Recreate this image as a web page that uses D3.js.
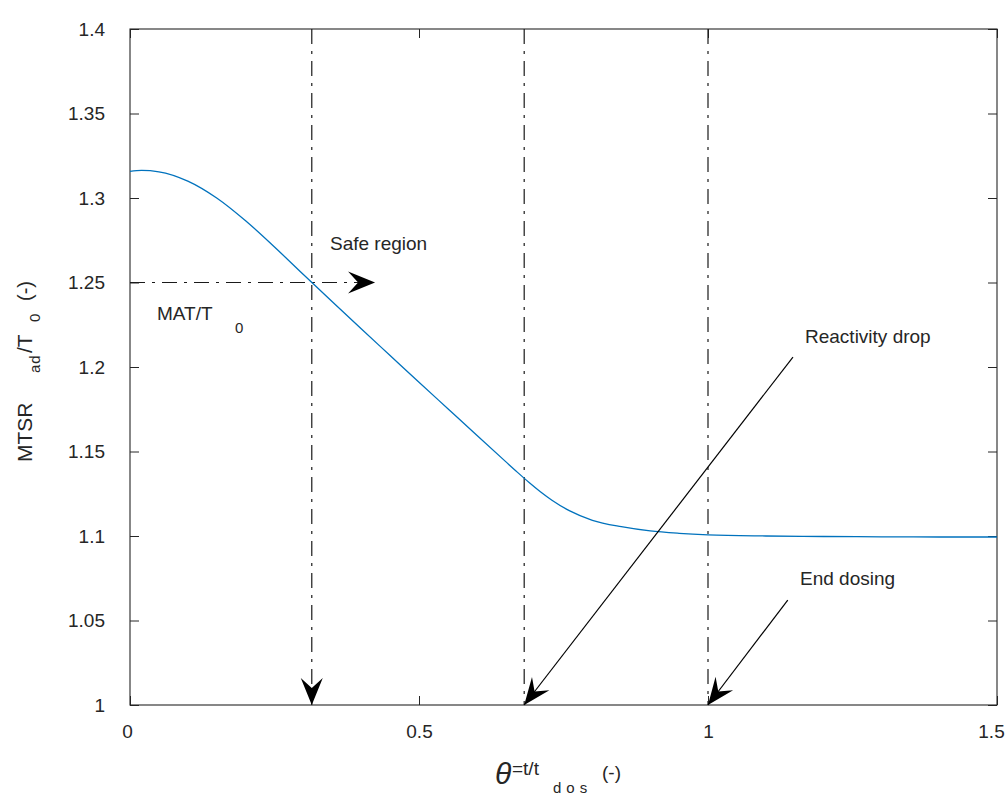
<!DOCTYPE html>
<html>
<head>
<meta charset="utf-8">
<script src="https://cdn.jsdelivr.net/npm/d3@7"></script>
<style>
  html, body { margin: 0; padding: 0; background: #fff; }
  svg { display: block; }
  text { font-family: "Liberation Sans", Arial, Helvetica, sans-serif; fill: #262626; }
</style>
</head>
<body>
<svg id="chart" width="1008" height="795"></svg>
<script>
// Dimensionless dosing time and adiabatic MTSR ratio
const theta = [0, 0.02, 0.05, 0.1, 0.15, 0.2, 0.25, 0.3, 0.35, 0.4, 0.45, 0.5, 0.55, 0.6, 0.65, 0.67,
               0.69, 0.71, 0.73, 0.76, 0.8, 0.85, 0.9, 0.95, 1.0, 1.1, 1.2, 1.3, 1.4, 1.5];
const mtsr  = [1.3157, 1.3163, 1.3155, 1.3100, 1.3000, 1.2865, 1.2710, 1.2547, 1.2386, 1.2226, 1.2068,
               1.1910, 1.1753, 1.1596, 1.1440, 1.1378, 1.1318, 1.1262, 1.1212, 1.1150, 1.1093, 1.1055,
               1.1030, 1.1016, 1.1007, 1.1000, 1.0997, 1.0995, 1.0994, 1.0994];

const xTicks = [0, 0.5, 1, 1.5];
const xTickLabels = ["0", "0.5", "1", "1.5"];
const yTicks = [1, 1.05, 1.1, 1.15, 1.2, 1.25, 1.3, 1.35, 1.4];
const yTickLabels = ["1", "1.05", "1.1", "1.15", "1.2", "1.25", "1.3", "1.35", "1.4"];

// Reference levels
const matRatio = 1.25;      // MAT / T0
const thetaSafe = 0.3145;   // where MTSR meets MAT
const thetaDrop = 0.682;    // reactivity drop
const thetaEnd = 1.0;       // end of dosing

const svg = d3.select("#chart");
const L = 130, R = 997, T = 29, B = 705;
const x = d3.scaleLinear().domain([0, 1.5]).range([L, R]);
const y = d3.scaleLinear().domain([1, 1.4]).range([B, T]);

const axisColor = "#262626";
const tickFont = "19px";

// Axes with inward ticks, mirrored on top and right
const xAxis = d3.axisBottom(x).tickValues(xTicks)
  .tickFormat((d, i) => xTickLabels[i]).tickSizeInner(-9).tickSizeOuter(0).tickPadding(20);
const yAxis = d3.axisLeft(y).tickValues(yTicks)
  .tickFormat((d, i) => yTickLabels[i]).tickSizeInner(-9).tickSizeOuter(0).tickPadding(25);

const gx = svg.append("g").attr("transform", `translate(0,${B})`).call(xAxis);
const gy = svg.append("g").attr("transform", `translate(${L},0)`).call(yAxis);
svg.append("g").attr("transform", `translate(0,${T})`)
  .call(d3.axisTop(x).tickValues(xTicks).tickFormat("").tickSizeInner(-9).tickSizeOuter(0));
svg.append("g").attr("transform", `translate(${R},0)`)
  .call(d3.axisRight(y).tickValues(yTicks).tickFormat("").tickSizeInner(-9).tickSizeOuter(0));

svg.selectAll(".domain").remove();
svg.selectAll(".tick line").attr("stroke", axisColor).attr("stroke-width", 1);
svg.selectAll(".tick text").attr("font-size", tickFont).attr("fill", axisColor)
  .attr("font-family", "Liberation Sans, Arial, sans-serif");
// keep the outer x labels inside the figure edge
gx.selectAll(".tick text").filter(d => d === 1.5).attr("dx", -6);
gx.selectAll(".tick text").filter(d => d === 0).attr("dx", -3);

svg.append("rect")
  .attr("x", L).attr("y", T).attr("width", R - L).attr("height", B - T)
  .attr("fill", "none").attr("stroke", axisColor).attr("stroke-width", 1.1);

// Dash-dot guides
const dashDot = "15,7,3,7";
const guide = (x1, y1, x2, y2) => svg.append("line")
  .attr("x1", x(x1)).attr("y1", y(y1)).attr("x2", x(x2)).attr("y2", y(y2))
  .attr("stroke", "#1a1a1a").attr("stroke-width", 1.2).attr("stroke-dasharray", dashDot);

guide(thetaSafe, 1.4, thetaSafe, 1.0);
guide(0, matRatio, 0.424, matRatio);
guide(thetaDrop, 1.4, thetaDrop, 1.0);
guide(thetaEnd, 1.4, thetaEnd, 1.0);

// MTSR curve
const line = d3.line().x((d, i) => x(theta[i])).y(d => y(d)).curve(d3.curveMonotoneX);
svg.append("path").datum(mtsr)
  .attr("d", line).attr("fill", "none")
  .attr("stroke", "#0072BD").attr("stroke-width", 1.3);

// Filled arrowheads with a notched back
function head(x0, y0, x1, y1) {
  const ang = Math.atan2(y1 - y0, x1 - x0);
  const len = 27, half = 11, notch = 17;
  const pts = [[0, 0], [-len, -half], [-notch, 0], [-len, half]].map(([u, v]) => [
    x1 + u * Math.cos(ang) - v * Math.sin(ang),
    y1 + u * Math.sin(ang) + v * Math.cos(ang)
  ]);
  svg.append("path").attr("d", "M" + pts.join("L") + "Z").attr("fill", "#000");
}
function arrow(xa, ya, xb, yb, solid) {
  const x0 = x(xa), y0 = y(ya), x1 = x(xb), y1 = y(yb);
  if (solid) {
    svg.append("line").attr("x1", x0).attr("y1", y0).attr("x2", x1).attr("y2", y1)
      .attr("stroke", "#000").attr("stroke-width", 1.2);
  }
  head(x0, y0, x1, y1);
}
arrow(thetaSafe, 1.4, thetaSafe, 1.0, false);
arrow(0, matRatio, 0.424, matRatio, false);
arrow(1.147, 1.2059, thetaDrop, 1.0, true);
arrow(1.138, 1.0621, thetaEnd, 1.0, true);

// Annotations
const note = (tx, ty, str, size) => svg.append("text")
  .attr("x", tx).attr("y", ty).attr("font-size", size || "19px").text(str);
note(330, 250, "Safe region");
note(157, 320, "MAT/T");
note(235, 333, "0", "15px");
note(805, 343, "Reactivity drop");
note(800, 585, "End dosing");

// Y label: MTSR_ad / T_0 (-)
const yl = (py, px, str, size) => svg.append("text")
  .attr("transform", `translate(${px},${py}) rotate(-90)`)
  .attr("font-size", size).text(str);
yl(462, 32, "MTSR", "21px");
yl(373, 40, "ad", "15px").attr("letter-spacing", "1px");
yl(353, 32, "/T", "21px");
yl(322, 40, "0", "15px");
yl(301, 32, "(-)", "20px");

// X label: theta = t / t_dos (-)
svg.append("text").attr("x", 495).attr("y", 784)
  .attr("font-family", "Liberation Serif, Times New Roman, serif")
  .attr("font-style", "italic").attr("font-size", "30px").text("θ");
svg.append("text").attr("x", 512).attr("y", 775).attr("font-size", "19px").text("=t/t");
svg.append("text").attr("x", 553).attr("y", 793).attr("font-size", "15px")
  .attr("letter-spacing", "5px").text("dos");
svg.append("text").attr("x", 602).attr("y", 779).attr("font-size", "19px").text("(-)");
</script>
</body>
</html>
